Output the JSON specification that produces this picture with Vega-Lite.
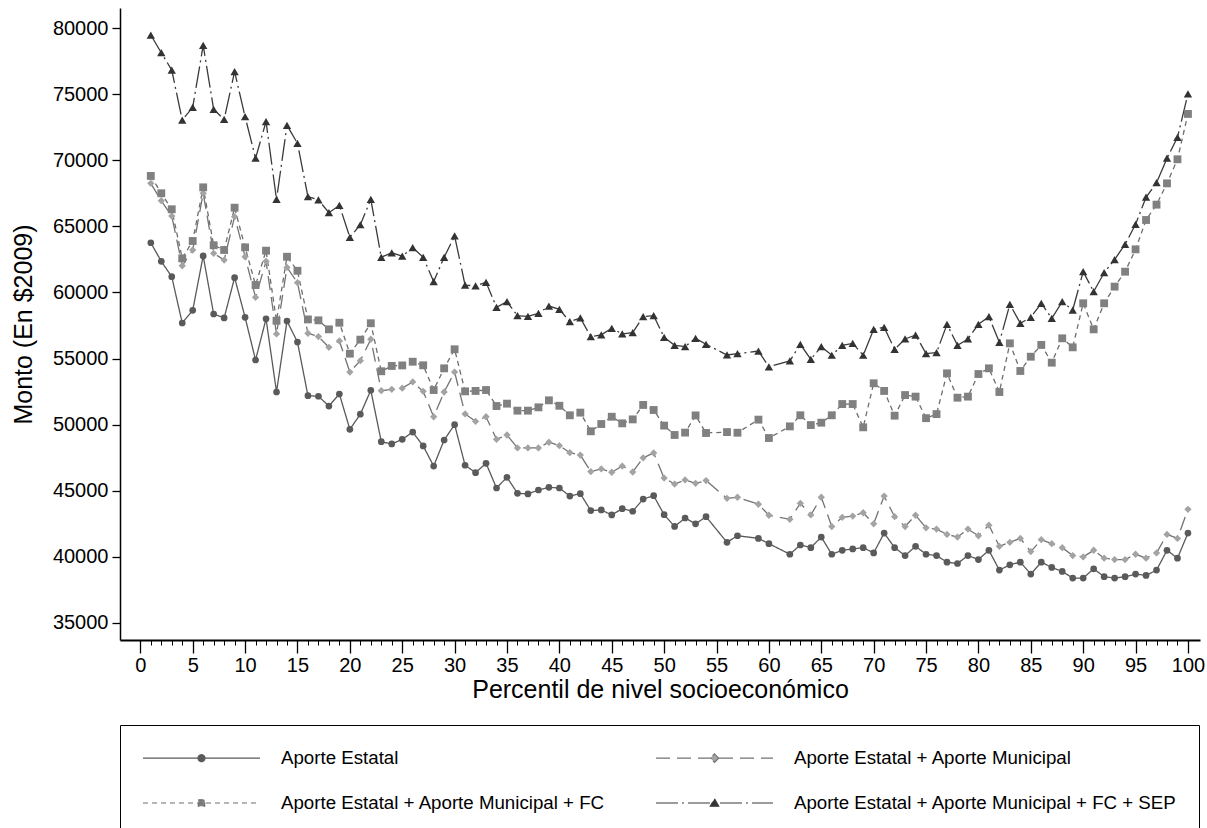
{
  "$schema": "https://vega.github.io/schema/vega-lite/v6.json",
  "width": 1080,
  "height": 632,
  "autosize": {"type": "none"},
  "padding": {"left": 120, "top": 8, "right": 7, "bottom": 188},
  "background": "white",
  "config": {"view": {"stroke": null}, "font": "Liberation Sans"},
  "data": {"values": [
    {"p":1,"e":63760,"m":68250,"f":68810,"s":79470},
    {"p":2,"e":62350,"m":66940,"f":67500,"s":78130},
    {"p":3,"e":61190,"m":65780,"f":66290,"s":76820},
    {"p":4,"e":57690,"m":62020,"f":62580,"s":73040},
    {"p":5,"e":58650,"m":63210,"f":63890,"s":74000},
    {"p":6,"e":62760,"m":67500,"f":67950,"s":78690},
    {"p":7,"e":58370,"m":62960,"f":63570,"s":73850},
    {"p":8,"e":58070,"m":62450,"f":63210,"s":73090},
    {"p":9,"e":61120,"m":65730,"f":66410,"s":76700},
    {"p":10,"e":58120,"m":62700,"f":63410,"s":73290},
    {"p":11,"e":54890,"m":59630,"f":60560,"s":70150},
    {"p":12,"e":58010,"m":62350,"f":63160,"s":72920},
    {"p":13,"e":52470,"m":56860,"f":57860,"s":67040},
    {"p":14,"e":57840,"m":61890,"f":62700,"s":72640},
    {"p":15,"e":56250,"m":60740,"f":61640,"s":71280},
    {"p":16,"e":52190,"m":56910,"f":57960,"s":67240},
    {"p":17,"e":52150,"m":56660,"f":57890,"s":67000},
    {"p":18,"e":51410,"m":55850,"f":57210,"s":66030},
    {"p":19,"e":52320,"m":56330,"f":57710,"s":66590},
    {"p":20,"e":49650,"m":53980,"f":55370,"s":64170},
    {"p":21,"e":50790,"m":54840,"f":56430,"s":65120},
    {"p":22,"e":52600,"m":56460,"f":57670,"s":67040},
    {"p":23,"e":48710,"m":52570,"f":54040,"s":62660},
    {"p":24,"e":48540,"m":52670,"f":54440,"s":63000},
    {"p":25,"e":48890,"m":52760,"f":54480,"s":62750},
    {"p":26,"e":49440,"m":53230,"f":54760,"s":63390},
    {"p":27,"e":48390,"m":52520,"f":54490,"s":62660},
    {"p":28,"e":46870,"m":50600,"f":52620,"s":60820},
    {"p":29,"e":48840,"m":52470,"f":54260,"s":62660},
    {"p":30,"e":50000,"m":53980,"f":55700,"s":64270},
    {"p":31,"e":46930,"m":50810,"f":52520,"s":60560},
    {"p":32,"e":46370,"m":50250,"f":52550,"s":60490},
    {"p":33,"e":47080,"m":50600,"f":52620,"s":60770},
    {"p":34,"e":45210,"m":48890,"f":51410,"s":58880},
    {"p":35,"e":46020,"m":49220,"f":51590,"s":59300},
    {"p":36,"e":44810,"m":48240,"f":51060,"s":58240},
    {"p":37,"e":44760,"m":48240,"f":51060,"s":58190},
    {"p":38,"e":45060,"m":48240,"f":51310,"s":58420},
    {"p":39,"e":45260,"m":48670,"f":51840,"s":58970},
    {"p":40,"e":45210,"m":48410,"f":51430,"s":58720},
    {"p":41,"e":44600,"m":47880,"f":50710,"s":57790},
    {"p":42,"e":44780,"m":47700,"f":50910,"s":58070},
    {"p":43,"e":43500,"m":46450,"f":49500,"s":56660},
    {"p":44,"e":43550,"m":46650,"f":50050,"s":56790},
    {"p":45,"e":43170,"m":46400,"f":50600,"s":57290},
    {"p":46,"e":43650,"m":46870,"f":50100,"s":56860},
    {"p":47,"e":43450,"m":46420,"f":50400,"s":56960},
    {"p":48,"e":44370,"m":47490,"f":51490,"s":58170},
    {"p":49,"e":44630,"m":47860,"f":51110,"s":58240},
    {"p":50,"e":43190,"m":45960,"f":49930,"s":56610},
    {"p":51,"e":42300,"m":45510,"f":49220,"s":56000},
    {"p":52,"e":42940,"m":45820,"f":49400,"s":55900},
    {"p":53,"e":42500,"m":45560,"f":50700,"s":56530},
    {"p":54,"e":43040,"m":45770,"f":49370,"s":56080},
    {"p":56,"e":41100,"m":44430,"f":49440,"s":55270},
    {"p":57,"e":41600,"m":44510,"f":49390,"s":55370},
    {"p":59,"e":41400,"m":43980,"f":50380,"s":55570},
    {"p":60,"e":41000,"m":43150,"f":48990,"s":54380},
    {"p":62,"e":40200,"m":42840,"f":49870,"s":54820},
    {"p":63,"e":40900,"m":44050,"f":50710,"s":56080},
    {"p":64,"e":40700,"m":43170,"f":49970,"s":54940},
    {"p":65,"e":41500,"m":44510,"f":50150,"s":55900},
    {"p":66,"e":40200,"m":42300,"f":50710,"s":55250},
    {"p":67,"e":40500,"m":42990,"f":51560,"s":56000},
    {"p":68,"e":40600,"m":43090,"f":51560,"s":56150},
    {"p":69,"e":40700,"m":43340,"f":49800,"s":55250},
    {"p":70,"e":40300,"m":42500,"f":53130,"s":57210},
    {"p":71,"e":41800,"m":44600,"f":52550,"s":57360},
    {"p":72,"e":40700,"m":43040,"f":50680,"s":55700},
    {"p":73,"e":40100,"m":42300,"f":52240,"s":56480},
    {"p":74,"e":40800,"m":43150,"f":52120,"s":56780},
    {"p":75,"e":40200,"m":42200,"f":50490,"s":55380},
    {"p":76,"e":40100,"m":42100,"f":50800,"s":55450},
    {"p":77,"e":39600,"m":41700,"f":53880,"s":57590},
    {"p":78,"e":39500,"m":41500,"f":52040,"s":56000},
    {"p":79,"e":40100,"m":42100,"f":52120,"s":56480},
    {"p":80,"e":39800,"m":41600,"f":53830,"s":57590},
    {"p":81,"e":40500,"m":42400,"f":54260,"s":58170},
    {"p":82,"e":39000,"m":40800,"f":52470,"s":56230},
    {"p":83,"e":39400,"m":41100,"f":56150,"s":59100},
    {"p":84,"e":39600,"m":41400,"f":54060,"s":57670},
    {"p":85,"e":38700,"m":40400,"f":55140,"s":58120},
    {"p":86,"e":39600,"m":41300,"f":56030,"s":59180},
    {"p":87,"e":39200,"m":41000,"f":54690,"s":58040},
    {"p":88,"e":38900,"m":40700,"f":56530,"s":59300},
    {"p":89,"e":38400,"m":40100,"f":55850,"s":58670},
    {"p":90,"e":38400,"m":40000,"f":59180,"s":61570},
    {"p":91,"e":39100,"m":40500,"f":57210,"s":60060},
    {"p":92,"e":38500,"m":39900,"f":59180,"s":61490},
    {"p":93,"e":38400,"m":39800,"f":60440,"s":62490},
    {"p":94,"e":38500,"m":39800,"f":61570,"s":63640},
    {"p":95,"e":38700,"m":40200,"f":63260,"s":65150},
    {"p":96,"e":38600,"m":39900,"f":65480,"s":67200},
    {"p":97,"e":39000,"m":40300,"f":66640,"s":68300},
    {"p":98,"e":40500,"m":41700,"f":68250,"s":70150},
    {"p":99,"e":39900,"m":41400,"f":70070,"s":71730},
    {"p":100,"e":41800,"m":43600,"f":73500,"s":75010}
  ]},
  "transform": [{"fold": ["e", "m", "f", "s"], "as": ["k", "v"]}],
  "layer": [
    {
      "mark": {"type": "line", "strokeWidth": 1.3},
      "encoding": {
        "x": {"field": "p", "type": "quantitative",
          "scale": {"domain": [-1.94, 101.15], "nice": false, "zero": false},
          "axis": {"orient": "bottom", "values": [0,5,10,15,20,25,30,35,40,45,50,55,60,65,70,75,80,85,90,95,100],
            "tickSize": 13, "tickWidth": 1.3, "tickColor": "black", "domainColor": "black", "domainWidth": 2,
            "labelFontSize": 20, "labelColor": "black", "labelPadding": 2, "labelFlush": false, "grid": false,
            "title": "Percentil de nivel socioeconómico", "titleFontSize": 25, "titleFontWeight": "normal",
            "titleColor": "black", "titlePadding": 2}},
        "y": {"field": "v", "type": "quantitative",
          "scale": {"domain": [33714, 81513], "nice": false, "zero": false},
          "axis": {"values": [35000,40000,45000,50000,55000,60000,65000,70000,75000,80000], "format": "d",
            "tickSize": 8, "tickWidth": 1.3, "tickColor": "black", "domainColor": "black", "domainWidth": 1.5,
            "labelFontSize": 20, "labelColor": "black", "labelPadding": 4, "labelFlush": false, "grid": false,
            "title": "Monto (En $2009)", "titleFontSize": 25, "titleFontWeight": "normal", "titleColor": "black", "titlePadding": 16}},
        "stroke": {"field": "k", "type": "nominal",
          "scale": {"domain": ["s", "f", "m", "e"], "range": ["#3a3a3a", "#6e6e6e", "#737373", "#5a5a5a"]},
          "legend": null},
        "strokeDash": {"field": "k", "type": "nominal",
          "scale": {"domain": ["e", "m", "f", "s"], "range": [[1, 0], [14, 7], [5, 4], [22, 4, 2, 4]]},
          "legend": {
            "orient": "none", "legendX": 0, "legendY": 717, "title": null, "columns": 2, "direction": "horizontal",
            "labelExpr": "datum.value === 'e' ? 'Aporte Estatal' : datum.value === 'm' ? 'Aporte Estatal + Aporte Municipal' : datum.value === 'f' ? 'Aporte Estatal + Aporte Municipal + FC' : 'Aporte Estatal + Aporte Municipal + FC + SEP'",
            "labelFont": "Liberation Sans", "labelFontSize": 18.7, "labelColor": "black", "labelLimit": 600,
            "symbolSize": 400, "symbolStrokeWidth": 1.2, "labelOffset": 117,
            "columnPadding": 47, "rowPadding": 24, "padding": 22,
            "strokeColor": "black", "fillColor": "white",
            "encode": {"symbols": {"update": {
              "shape": {"signal": "datum.value === 'e' ? 'M-1,0H10.7M5.2,0A0.35,0.35 0 1 1 4.5,0A0.35,0.35 0 1 1 5.2,0Z' : datum.value === 'm' ? 'M-1,0H10.7M4.85,-0.42L5.27,0L4.85,0.42L4.43,0Z' : datum.value === 'f' ? 'M-1,0H10.7M4.53,-0.32H5.17V0.32H4.53Z' : 'M-1,0H10.7M4.85,-0.42L5.27,0.32L4.43,0.32Z'"},
              "fill": {"signal": "datum.value === 'e' ? '#5a5a5a' : datum.value === 'm' ? '#a3a3a3' : datum.value === 'f' ? '#808080' : '#333333'"},
              "stroke": {"signal": "datum.value === 'e' ? '#5a5a5a' : datum.value === 'm' ? '#737373' : datum.value === 'f' ? '#6e6e6e' : '#3a3a3a'"},
              "opacity": {"value": 1}
            }}}
          }}
      }
    },
    {
      "mark": {"type": "point", "filled": true, "opacity": 1},
      "encoding": {
        "x": {"field": "p", "type": "quantitative",
          "scale": {"domain": [-1.94, 101.15], "nice": false, "zero": false},
          "axis": {"orient": "bottom", "values": [0,1,2,3,4,5,6,7,8,9,10,11,12,13,14,15,16,17,18,19,20,21,22,23,24,25,26,27,28,29,30,31,32,33,34,35,36,37,38,39,40,41,42,43,44,45,46,47,48,49,50,51,52,53,54,55,56,57,58,59,60,61,62,63,64,65,66,67,68,69,70,71,72,73,74,75,76,77,78,79,80,81,82,83,84,85,86,87,88,89,90,91,92,93,94,95,96,97,98,99,100],
            "tickSize": 5, "tickWidth": 1, "tickColor": "black", "labels": false, "domain": false, "grid": false, "title": null}},
        "y": {"field": "v", "type": "quantitative",
          "scale": {"domain": [33714, 81513], "nice": false, "zero": false},
          "axis": {"values": [35000,40000,45000,50000,55000,60000,65000,70000,75000,80000], "format": "d",
            "tickSize": 8, "tickWidth": 1.3, "tickColor": "black", "domainColor": "black", "domainWidth": 1.5,
            "labelFontSize": 20, "labelColor": "black", "labelPadding": 4, "labelFlush": false, "grid": false,
            "title": "Monto (En $2009)", "titleFontSize": 25, "titleFontWeight": "normal", "titleColor": "black", "titlePadding": 16}},
        "shape": {"field": "k", "type": "nominal",
          "scale": {"domain": ["s", "f", "m", "e"], "range": ["triangle-up", "square", "diamond", "circle"]}, "legend": null},
        "fill": {"field": "k", "type": "nominal",
          "scale": {"domain": ["s", "f", "m", "e"], "range": ["#333333", "#808080", "#a3a3a3", "#5a5a5a"]}, "legend": null},
        "size": {"field": "k", "type": "nominal",
          "scale": {"domain": ["s", "f", "m", "e"], "range": [70, 45, 64, 45]}, "legend": null}
      }
    }
  ],
  "resolve": {"axis": {"x": "independent"}}
}
